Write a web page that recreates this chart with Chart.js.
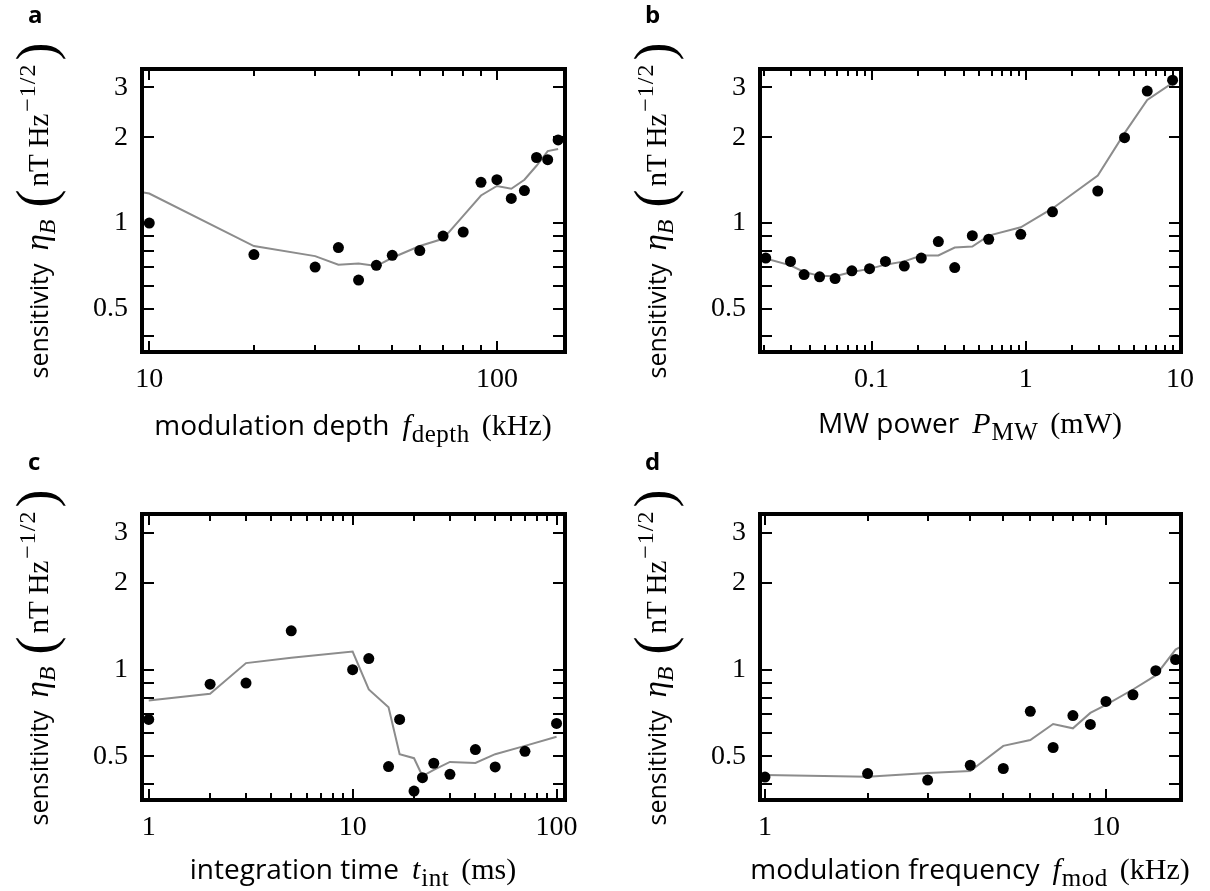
<!DOCTYPE html>
<html>
<head>
<meta charset="utf-8">
<script src="https://cdn.jsdelivr.net/npm/chart.js@4.4.0/dist/chart.umd.min.js"></script>
<style>
  body { margin: 0; background: #fff; }
  #fig { position: relative; width: 1210px; height: 891px; overflow: hidden; background: #fff; }
  canvas { position: absolute; }
  .lbl { position: absolute; white-space: nowrap; color: #000; line-height: 30px; }
  .sans { font-family: 'Open Sans', sans-serif; }
  .m { font-family: 'Liberation Serif', serif; }
  .xt { width: 600px; text-align: center; }
  .xt .sans { font-size: 28px; }
  .xt .m { font-size: 30px; margin-left: 13px; }
  .xt .m sub { font-size: 25px; vertical-align: -7px; line-height: 0; margin-left: 1px; margin-right: 12px; letter-spacing: 0.5px; }
  .yt { transform: translate(-50%, -50%) rotate(-90deg); }
  .yt .sans { font-size: 25px; }
  .yt .eta { font-family: 'Liberation Serif', serif; font-size: 33px; margin-left: 13px; }
  .yt .eta sub { font-size: 24px; vertical-align: -7px; line-height: 0; }
  .yt .unit { font-family: 'Liberation Serif', serif; font-size: 29px; margin-left: 9px; }
  .yt .unit sup { font-size: 24px; vertical-align: 13px; line-height: 0; margin-left: 2px; letter-spacing: 1px; }
  .big { font-size: 54px; vertical-align: -6px; line-height: 0; margin: 0 3px; }
  .panel { position: absolute; font-family: 'Open Sans', sans-serif; font-weight: 700; font-size: 24px; line-height: 24px; }
</style>
</head>
<body>
<div id="fig">
  <canvas id="cA" width="605" height="445" style="left:0;top:0"></canvas>
  <canvas id="cB" width="605" height="445" style="left:605px;top:0"></canvas>
  <canvas id="cC" width="605" height="446" style="left:0;top:445px"></canvas>
  <canvas id="cD" width="605" height="446" style="left:605px;top:445px"></canvas>

  <div class="panel" style="left:28px;top:2px">a</div>
  <div class="panel" style="left:645px;top:2px">b</div>
  <div class="panel" style="left:28px;top:449px">c</div>
  <div class="panel" style="left:645px;top:449px">d</div>

  <div class="lbl xt" style="left:53px;top:409px"><span class="sans">modulation depth</span><span class="m"><i>f</i><sub>depth</sub>(kHz)</span></div>
  <div class="lbl xt" style="left:670px;top:407px"><span class="sans">MW power</span><span class="m"><i>P</i><sub>MW</sub>(mW)</span></div>
  <div class="lbl xt" style="left:53px;top:853px"><span class="sans">integration time</span><span class="m"><i>t</i><sub>int</sub>(ms)</span></div>
  <div class="lbl xt" style="left:670px;top:853px"><span class="sans">modulation frequency</span><span class="m"><i>f</i><sub>mod</sub>(kHz)</span></div>

  <div class="lbl yt" style="left:40px;top:209px"><span class="sans">sensitivity</span><span class="eta"><i>η</i><sub><i>B</i></sub></span><span class="unit"><span class="big">(</span>nT Hz<sup>−1/2</sup><span class="big">)</span></span></div>
  <div class="lbl yt" style="left:658px;top:209px"><span class="sans">sensitivity</span><span class="eta"><i>η</i><sub><i>B</i></sub></span><span class="unit"><span class="big">(</span>nT Hz<sup>−1/2</sup><span class="big">)</span></span></div>
  <div class="lbl yt" style="left:40px;top:656px"><span class="sans">sensitivity</span><span class="eta"><i>η</i><sub><i>B</i></sub></span><span class="unit"><span class="big">(</span>nT Hz<sup>−1/2</sup><span class="big">)</span></span></div>
  <div class="lbl yt" style="left:658px;top:656px"><span class="sans">sensitivity</span><span class="eta"><i>η</i><sub><i>B</i></sub></span><span class="unit"><span class="big">(</span>nT Hz<sup>−1/2</sup><span class="big">)</span></span></div>
</div>

<script>
// a: modulation depth (kHz)
const depthX = [10, 20, 30, 35, 40, 45, 50, 60, 70, 80, 90, 100, 110, 120, 130, 140, 150];
const depthMeas = [1.0, 0.775, 0.70, 0.82, 0.63, 0.71, 0.77, 0.80, 0.90, 0.93, 1.39, 1.42, 1.22, 1.30, 1.70, 1.67, 1.96];
const depthModelX = [9.5, 10, 20, 30, 35, 40, 45, 50, 60, 70, 80, 90, 100, 110, 120, 130, 140, 150];
const depthModel = [1.285, 1.27, 0.83, 0.765, 0.714, 0.72, 0.706, 0.755, 0.83, 0.88, 1.06, 1.25, 1.35, 1.32, 1.42, 1.59, 1.79, 1.82];

// b: MW power (mW)
const powerX = [0.0206, 0.0298, 0.0365, 0.046, 0.058, 0.0745, 0.097, 0.123, 0.163, 0.21, 0.271, 0.346, 0.45, 0.575, 0.928, 1.49, 2.93, 4.37, 6.13, 8.95];
const powerMeas = [0.753, 0.733, 0.659, 0.647, 0.638, 0.679, 0.691, 0.733, 0.706, 0.753, 0.861, 0.697, 0.903, 0.877, 0.913, 1.095, 1.296, 1.995, 2.91, 3.18];
const powerModel = [0.75, 0.71, 0.673, 0.652, 0.65, 0.673, 0.69, 0.714, 0.733, 0.769, 0.769, 0.82, 0.827, 0.903, 0.966, 1.125, 1.47, 2.07, 2.71, 3.11];

// c: integration time (ms)
const tintX = [1, 2, 3, 5, 10, 12, 15, 17, 20, 22, 25, 30, 40, 50, 70, 100];
const tintMeas = [0.671, 0.89, 0.898, 1.365, 1.0, 1.093, 0.46, 0.671, 0.378, 0.421, 0.4725, 0.4325, 0.527, 0.4586, 0.52, 0.65];
const tintModel = [0.781, 0.824, 1.054, 1.10, 1.156, 0.853, 0.74, 0.508, 0.492, 0.4266, 0.448, 0.4775, 0.4736, 0.508, 0.543, 0.584];

// d: modulation frequency (kHz)
const fmodX = [1, 2, 3, 4, 5, 6, 7, 8, 9, 10, 12, 14, 16];
const fmodMeas = [0.423, 0.435, 0.413, 0.465, 0.453, 0.716, 0.536, 0.692, 0.645, 0.775, 0.818, 0.992, 1.084];
const fmodModelX = [1, 2, 3, 4, 5, 6, 7, 8, 9, 10, 12, 14, 16, 17];
const fmodModel = [0.43, 0.424, 0.437, 0.444, 0.543, 0.569, 0.647, 0.625, 0.707, 0.754, 0.853, 0.955, 1.175, 1.22];

// tick labels
const yTickVals = [0.5, 1, 2, 3];
const depthTicks = [10, 100];
const powerTicks = [0.1, 1, 10];
const tintTicks = [1, 10, 100];
const fmodTicks = [1, 10];

const Y_MIN = 0.352, Y_MAX = 3.48;

function pts(xs, ys) {
    return xs.map((x, i) => ({ x: x, y: ys[i] }));
}

// 1..9 x 10^k ticks that fall inside [min, max]
function decadeTicks(min, max) {
    const out = [];
    for (let e = Math.floor(Math.log10(min)); e <= Math.ceil(Math.log10(max)); e++) {
        for (let m = 1; m <= 9; m++) {
            const v = Number((m * Math.pow(10, e)).toPrecision(6));
            if (v >= min && v <= max) out.push({ v: v, major: m === 1 });
        }
    }
    return out;
}

// thick box with inward ticks on all four sides
const frameAndTicks = {
    id: 'frameAndTicks',
    afterDatasetsDraw(chart) {
        const { ctx, chartArea: a } = chart;
        const x = chart.scales.x, y = chart.scales.y;
        ctx.save();
        ctx.strokeStyle = '#000';
        ctx.lineWidth = 2;
        ctx.beginPath();
        decadeTicks(x.min, x.max).forEach(t => {
            const px = Math.round(x.getPixelForValue(t.v));
            const len = t.major ? 11 : 7;
            ctx.moveTo(px, a.bottom); ctx.lineTo(px, a.bottom - len);
            ctx.moveTo(px, a.top); ctx.lineTo(px, a.top + len);
        });
        decadeTicks(y.min, y.max).forEach(t => {
            const py = Math.round(y.getPixelForValue(t.v));
            ctx.moveTo(a.left, py); ctx.lineTo(a.left + 12, py);
            ctx.moveTo(a.right, py); ctx.lineTo(a.right - 12, py);
        });
        ctx.stroke();
        ctx.lineWidth = 4;
        ctx.strokeRect(a.left, a.top, a.right - a.left, a.bottom - a.top);
        ctx.restore();
    }
};

function zeroPad(s) {
    s.paddingTop = 0; s.paddingBottom = 0; s.paddingLeft = 0; s.paddingRight = 0;
}

function makePanel(canvasId, box, xMin, xMax, xTicks, meas, model) {
    const cv = document.getElementById(canvasId);
    const W = cv.width, H = cv.height;
    const tickFont = { family: "'Liberation Serif', serif", size: 28 };
    new Chart(cv.getContext('2d'), {
        type: 'scatter',
        data: {
            datasets: [
                {
                    data: meas,
                    backgroundColor: '#000',
                    borderColor: '#000',
                    pointRadius: 5.5,
                    pointBorderWidth: 0,
                    order: 0
                },
                {
                    type: 'line',
                    data: model,
                    borderColor: '#8c8c8c',
                    borderWidth: 2,
                    pointRadius: 0,
                    tension: 0,
                    fill: false,
                    order: 1
                }
            ]
        },
        options: {
            responsive: false,
            animation: false,
            events: [],
            layout: { padding: { left: 0, top: box.top, right: W - box.right, bottom: 0 } },
            plugins: { legend: { display: false }, tooltip: { enabled: false } },
            scales: {
                x: {
                    type: 'logarithmic',
                    position: 'bottom',
                    min: xMin,
                    max: xMax,
                    grid: { display: false, drawTicks: false },
                    border: { display: false },
                    ticks: {
                        color: '#000',
                        font: tickFont,
                        padding: 11,
                        autoSkip: false,
                        maxRotation: 0,
                        callback: v => String(v)
                    },
                    afterBuildTicks: s => { s.ticks = xTicks.map(v => ({ value: v })); },
                    afterFit: s => { s.height = H - box.bottom; zeroPad(s); }
                },
                y: {
                    type: 'logarithmic',
                    position: 'left',
                    min: Y_MIN,
                    max: Y_MAX,
                    grid: { display: false, drawTicks: false },
                    border: { display: false },
                    ticks: {
                        color: '#000',
                        font: tickFont,
                        padding: 14,
                        autoSkip: false,
                        callback: v => String(v)
                    },
                    afterBuildTicks: s => { s.ticks = yTickVals.map(v => ({ value: v })); },
                    afterFit: s => { s.width = box.left; zeroPad(s); }
                }
            }
        },
        plugins: [frameAndTicks]
    });
}

makePanel('cA', { left: 142, top: 69, right: 565, bottom: 352 }, 9.53, 157, depthTicks,
    pts(depthX, depthMeas), pts(depthModelX, depthModel));
makePanel('cB', { left: 155, top: 69, right: 576, bottom: 352 }, 0.0189, 10.15, powerTicks,
    pts(powerX, powerMeas), pts(powerX, powerModel));
makePanel('cC', { left: 142, top: 69, right: 565, bottom: 355 }, 0.927, 110, tintTicks,
    pts(tintX, tintMeas), pts(tintX, tintModel));
makePanel('cD', { left: 155, top: 69, right: 576, bottom: 355 }, 0.967, 16.6, fmodTicks,
    pts(fmodX, fmodMeas), pts(fmodModelX, fmodModel));
</script>
</body>
</html>
